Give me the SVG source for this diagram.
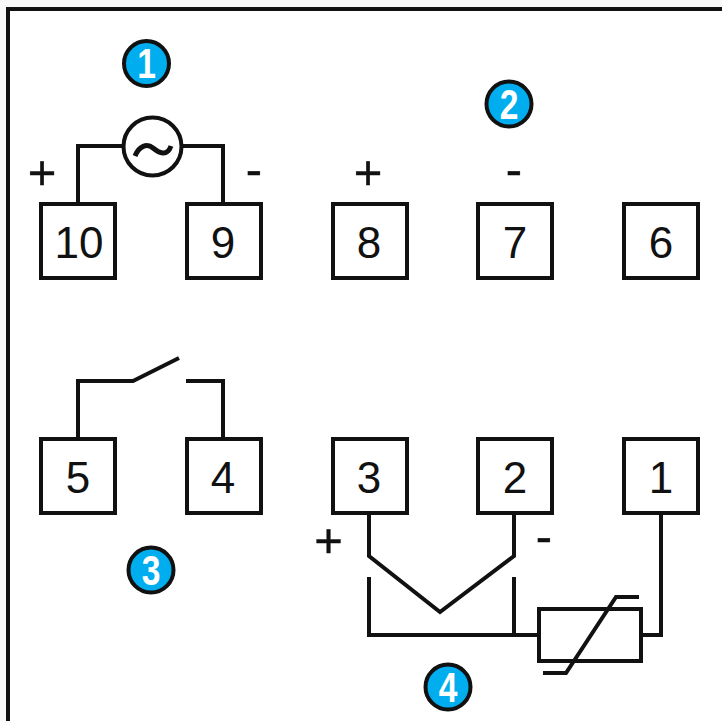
<svg xmlns="http://www.w3.org/2000/svg" width="722" height="721" viewBox="0 0 722 721">
<style>
.box{fill:#fff;stroke:#111;stroke-width:4}
.wire{fill:none;stroke:#111;stroke-width:4}
.num{font-family:"Liberation Sans",Arial,sans-serif;font-size:44px;fill:#111;text-anchor:middle}
.sign{font-family:"Liberation Sans",Arial,sans-serif;font-size:49px;fill:#111;text-anchor:middle;stroke:#111;stroke-width:.4}
.badge{fill:#00aeef;stroke:#111;stroke-width:4}
.bnum{font-family:"Liberation Sans",Arial,sans-serif;font-size:42px;font-weight:bold;fill:#fff;text-anchor:middle}
</style>
<rect x="0" y="0" width="722" height="721" fill="#f8f8f8"/>
<rect x="8" y="9" width="720" height="720" fill="#fff" stroke="#111" stroke-width="4"/>
<g id="connectors" class="wire">
<path d="M78 204V146H122M183 146H223V204"/>
<path d="M78 439V381H133L179 358M186 381H223V439"/>
<path d="M369 513V556L440 612L514 556V513"/>
<path d="M369 577V635H539M514 577V635"/>
<path d="M641 635H661V513"/>
<path d="M543 673H566L616 597H639"/>
</g>
<g id="source"><circle class="box" cx="152.500" cy="146.500" r="29"/><path d="M135 156C139 146 147 143 153 148C159 153 167 157 171 146" fill="none" stroke="#111" stroke-width="5"/></g>
<g id="thermistor"><rect x="539" y="609" width="102" height="52" fill="none" stroke="#111" stroke-width="4"/></g>
<g id="t10"><rect class="box" x="41" y="204" width="74" height="74"/><text class="num" x="79" y="258">10</text></g>
<g id="t9"><rect class="box" x="187" y="204" width="74" height="74"/><text class="num" x="223" y="258">9</text></g>
<g id="t8"><rect class="box" x="333" y="204" width="74" height="74"/><text class="num" x="369" y="258">8</text></g>
<g id="t7"><rect class="box" x="478" y="204" width="74" height="74"/><text class="num" x="515" y="258">7</text></g>
<g id="t6"><rect class="box" x="624" y="204" width="74" height="74"/><text class="num" x="661" y="258">6</text></g>
<g id="t5"><rect class="box" x="41" y="439" width="74" height="74"/><text class="num" x="78" y="493">5</text></g>
<g id="t4"><rect class="box" x="187" y="439" width="74" height="74"/><text class="num" x="223" y="493">4</text></g>
<g id="t3"><rect class="box" x="333" y="439" width="74" height="74"/><text class="num" x="369" y="493">3</text></g>
<g id="t2"><rect class="box" x="478" y="439" width="74" height="74"/><text class="num" x="515" y="493">2</text></g>
<g id="t1"><rect class="box" x="624" y="439" width="74" height="74"/><text class="num" x="661" y="493">1</text></g>
<g id="signs">
<text class="sign" x="42" y="189">+</text><text class="sign" x="254" y="186">-</text>
<text class="sign" x="368" y="189">+</text><text class="sign" x="514" y="186">-</text>
<text class="sign" x="328.500" y="557">+</text><text class="sign" x="544" y="553">-</text>
</g>
<g id="badge1"><circle class="badge" cx="146.500" cy="63.500" r="22.500"/><text class="bnum" transform="translate(146.500 78) scale(.8 1)">1</text></g>
<g id="badge2"><circle class="badge" cx="509" cy="104" r="22.500"/><text class="bnum" transform="translate(509 119) scale(.8 1)">2</text></g>
<g id="badge3"><circle class="badge" cx="151" cy="570" r="22.500"/><text class="bnum" transform="translate(151 585) scale(.8 1)">3</text></g>
<g id="badge4"><circle class="badge" cx="448" cy="687" r="22.500"/><text class="bnum" transform="translate(448 702) scale(.8 1)">4</text></g>
</svg>
